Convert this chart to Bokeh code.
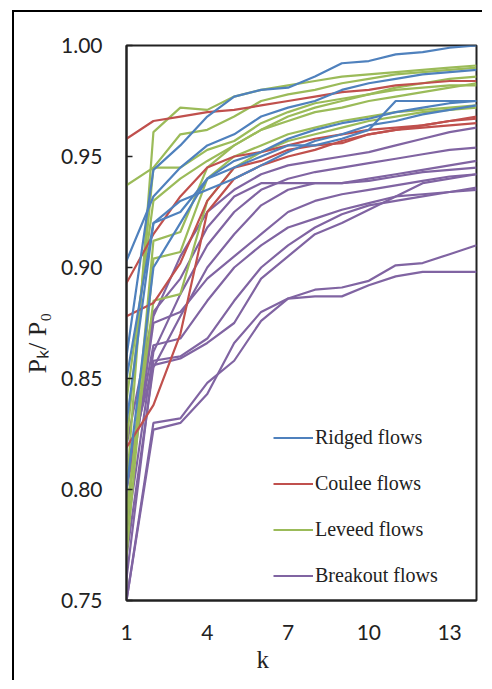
import math
from bokeh.plotting import figure
from bokeh.models import Range1d, FixedTicker, PrintfTickFormatter, Legend, Title
from bokeh.embed import file_html
from bokeh.resources import INLINE

k = list(range(1, 15))
x_ticks = [1, 4, 7, 10, 13]
y_ticks = [0.75, 0.80, 0.85, 0.90, 0.95, 1.00]

ridged = [
    [0.860, 0.944, 0.955, 0.968, 0.977, 0.980, 0.981, 0.986, 0.992, 0.993, 0.996, 0.997, 0.999, 1.000],
    [0.903, 0.932, 0.945, 0.955, 0.960, 0.968, 0.972, 0.975, 0.980, 0.983, 0.985, 0.987, 0.988, 0.989],
    [0.830, 0.920, 0.925, 0.940, 0.948, 0.952, 0.958, 0.962, 0.965, 0.967, 0.970, 0.972, 0.974, 0.975],
    [0.850, 0.920, 0.930, 0.935, 0.940, 0.946, 0.952, 0.957, 0.960, 0.964, 0.966, 0.969, 0.971, 0.973],
    [0.800, 0.900, 0.920, 0.940, 0.945, 0.950, 0.955, 0.955, 0.958, 0.962, 0.975, 0.975, 0.975, 0.975],
]
coulee = [
    [0.958, 0.966, 0.968, 0.970, 0.971, 0.973, 0.975, 0.977, 0.979, 0.980, 0.982, 0.983, 0.984, 0.984],
    [0.893, 0.915, 0.932, 0.945, 0.950, 0.952, 0.955, 0.958, 0.960, 0.962, 0.963, 0.964, 0.966, 0.968],
    [0.878, 0.884, 0.902, 0.930, 0.945, 0.948, 0.953, 0.955, 0.956, 0.960, 0.962, 0.963, 0.964, 0.965],
    [0.819, 0.838, 0.870, 0.925, 0.940, 0.946, 0.950, 0.953, 0.957, 0.960, 0.962, 0.964, 0.966, 0.967],
]
leveed = [
    [0.937, 0.945, 0.945, 0.953, 0.957, 0.965, 0.970, 0.974, 0.976, 0.978, 0.980, 0.981, 0.982, 0.982],
    [0.800, 0.961, 0.972, 0.971, 0.977, 0.980, 0.982, 0.984, 0.986, 0.987, 0.988, 0.989, 0.990, 0.991],
    [0.820, 0.945, 0.960, 0.962, 0.968, 0.975, 0.978, 0.980, 0.983, 0.985, 0.987, 0.988, 0.989, 0.990],
    [0.780, 0.912, 0.916, 0.945, 0.955, 0.962, 0.968, 0.972, 0.975, 0.978, 0.981, 0.983, 0.985, 0.986],
    [0.770, 0.904, 0.907, 0.940, 0.950, 0.955, 0.960, 0.963, 0.966, 0.968, 0.970, 0.971, 0.972, 0.973],
    [0.790, 0.885, 0.888, 0.930, 0.945, 0.952, 0.957, 0.960, 0.963, 0.966, 0.968, 0.970, 0.971, 0.972],
    [0.840, 0.930, 0.940, 0.948, 0.955, 0.962, 0.966, 0.970, 0.972, 0.975, 0.977, 0.979, 0.981, 0.983],
]
breakout = [
    [0.800, 0.878, 0.905, 0.925, 0.935, 0.942, 0.946, 0.948, 0.950, 0.952, 0.955, 0.958, 0.961, 0.963],
    [0.780, 0.862, 0.888, 0.910, 0.925, 0.935, 0.940, 0.943, 0.945, 0.947, 0.949, 0.951, 0.953, 0.954],
    [0.820, 0.880, 0.895, 0.918, 0.932, 0.938, 0.938, 0.938, 0.938, 0.940, 0.942, 0.944, 0.946, 0.948],
    [0.770, 0.855, 0.878, 0.900, 0.915, 0.928, 0.935, 0.938, 0.938, 0.939, 0.941, 0.943, 0.944, 0.945],
    [0.790, 0.875, 0.880, 0.895, 0.905, 0.915, 0.925, 0.930, 0.933, 0.935, 0.937, 0.939, 0.941, 0.942],
    [0.760, 0.858, 0.860, 0.868, 0.885, 0.900, 0.910, 0.918, 0.924, 0.928, 0.930, 0.932, 0.934, 0.936],
    [0.800, 0.865, 0.868, 0.885, 0.900, 0.910, 0.918, 0.922, 0.926, 0.929, 0.932, 0.933, 0.934, 0.935],
    [0.750, 0.830, 0.832, 0.848, 0.858, 0.876, 0.886, 0.890, 0.891, 0.894, 0.901, 0.902, 0.906, 0.910],
    [0.750, 0.827, 0.830, 0.843, 0.866, 0.880, 0.886, 0.887, 0.887, 0.892, 0.896, 0.898, 0.898, 0.898],
    [0.810, 0.856, 0.859, 0.866, 0.875, 0.895, 0.905, 0.915, 0.920, 0.926, 0.932, 0.938, 0.940, 0.942],
]

groups = [
    ("Breakout flows", "#8064A2", breakout),
    ("Leveed flows", "#9BBB59", leveed),
    ("Coulee flows", "#C0504D", coulee),
    ("Ridged flows", "#4F81BD", ridged),
]
legend_order = ["Ridged flows", "Coulee flows", "Leveed flows", "Breakout flows"]

W, H = 470, 670
p = figure(width=W, height=H, output_backend="svg", toolbar_location=None,
           x_range=Range1d(1, 14), y_range=Range1d(0.75, 1.0),
           min_border_left=112, min_border_right=8, min_border_top=33, min_border_bottom=82)
# outer frame of the original figure (left and top edges), drawn without changing layout
p.margin = (12, 0, 0, 14)
p.styles = {"box-shadow": "-2px -2px 0 0 #000000"}
p.background_fill_color = "white"
p.border_fill_color = "white"
p.outline_line_color = "#222222"
p.outline_line_width = 2
p.xgrid.visible = False
p.ygrid.visible = False

for ax in (p.xaxis[0], p.yaxis[0]):
    ax.axis_line_color = "#222222"
    ax.axis_line_width = 2
    ax.minor_tick_line_color = None
    ax.major_label_text_font = "Lato"
    ax.major_label_text_font_size = "21px"
    ax.major_label_text_color = "#222222"
    ax.major_tick_line_color = "#222222"
    ax.major_tick_line_width = 1.5

p.xaxis.ticker = FixedTicker(ticks=x_ticks)
p.xaxis.major_tick_in = 0
p.xaxis.major_tick_out = 0
p.xaxis.major_label_standoff = 24
p.yaxis.ticker = FixedTicker(ticks=y_ticks)
p.yaxis.formatter = PrintfTickFormatter(format="%.2f")
p.yaxis.major_tick_in = 6
p.yaxis.major_tick_out = 0
p.yaxis.major_label_standoff = 24

items = {}
for name, color, series in groups:
    rs = []
    for s in series:
        r = p.line(k, s, line_color=color, line_width=2.2)
        rs.append(r)
    items[name] = rs

legend = Legend(items=[(n, [items[n][0]]) for n in legend_order], location=(147, 12))
legend.border_line_color = None
legend.background_fill_alpha = 0
legend.label_text_font = "Liberation Serif"
legend.label_text_font_size = "20px"
legend.label_text_color = "#222222"
legend.glyph_width = 40
legend.glyph_height = 25
legend.label_height = 25
legend.label_standoff = 2
legend.spacing = 21
legend.padding = 0
legend.margin = 0
p.add_layout(legend)

serif = "Liberation Serif"

# x-axis title, shifted left of centre like the original
p.add_layout(Title(text="k", align="left", offset=130, vertical_align="bottom", text_font=serif,
                   text_font_size="25px", text_font_style="normal", text_color="#222222",
                   standoff=3), "below")
# y-axis title
p.add_layout(Title(text="P\u2096/ P\u2080", align="left", offset=227, text_font=serif, text_font_size="26px",
                   text_font_style="normal", text_color="#222222", standoff=13), "left")

open("out.html", "w").write(file_html(p, INLINE))
